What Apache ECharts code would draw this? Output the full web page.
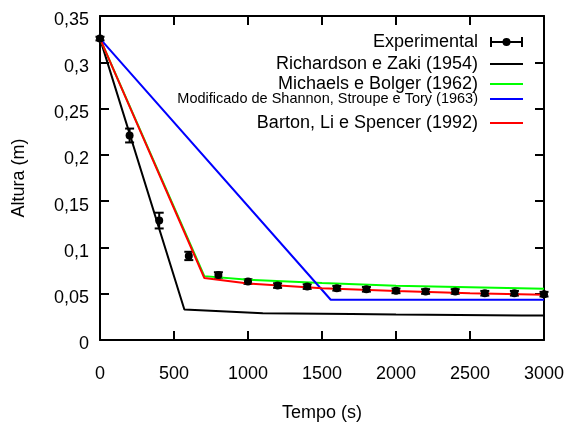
<!DOCTYPE html>
<html>
<head>
<meta charset="utf-8">
<script src="https://cdn.jsdelivr.net/npm/echarts@6/dist/echarts.min.js"></script>
<style>
  html, body { margin: 0; padding: 0; background: #fff; }
  #chart { width: 568px; height: 427px; }
</style>
</head>
<body>
<div id="chart"></div>
<script>
  // dados experimentais
  var tempoExp = [0, 200, 400, 600, 800, 1000, 1200, 1400, 1600, 1800, 2000, 2200, 2400, 2600, 2800, 3000];
  var alturaExp = [0.3256, 0.2209, 0.129, 0.0908, 0.0702, 0.0631, 0.0588, 0.0577, 0.0559, 0.0548, 0.0531, 0.0524, 0.0524, 0.0505, 0.0505, 0.0495];
  var erroExp = [0.002, 0.0075, 0.0085, 0.0045, 0.003, 0.0025, 0.0025, 0.0025, 0.0025, 0.0025, 0.0025, 0.0025, 0.0025, 0.0025, 0.0025, 0.0025];

  // modelos
  var tempoRZ = [0, 570, 1100, 1700, 2000, 2850, 3000];
  var alturaRZ = [0.3256, 0.033, 0.029, 0.028, 0.0275, 0.0265, 0.0265];
  var tempoMB = [0, 705, 1000, 1500, 2000, 2500, 3000];
  var alturaMB = [0.3256, 0.069, 0.065, 0.0615, 0.0585, 0.057, 0.0553];
  var tempoSST = [0, 1559, 3000];
  var alturaSST = [0.3256, 0.0435, 0.0435];
  var tempoBLS = [0, 705, 1000, 1500, 2000, 2500, 3000];
  var alturaBLS = [0.3256, 0.067, 0.061, 0.056, 0.053, 0.0505, 0.049];

  var nomes = ['Experimental', 'Richardson e Zaki (1954)', 'Michaels e Bolger (1962)',
    'Modificado de Shannon, Stroupe e Tory (1963)', 'Barton, Li e Spencer (1992)'];
  var cores = ['#000000', '#000000', '#00ff00', '#0000ff', '#ff0000'];
  var xTicks = [0, 3000, 500];
  var yTicks = [0, 0.35, 0.05];

  var fonte = 'Liberation Sans, Arial, Helvetica, sans-serif';

  function pares(xs, ys) {
    return xs.map(function (x, i) { return [x, ys[i]]; });
  }

  var eixoBase = {
    type: 'value',
    splitLine: {show: false},
    axisLine: {show: true, onZero: false, lineStyle: {color: '#000', width: 2}},
    axisTick: {show: true, inside: true, length: 9, lineStyle: {color: '#000', width: 2}},
  };

  function eixoX(pos, labels) {
    return Object.assign({}, eixoBase, {
      position: pos,
      min: xTicks[0], max: xTicks[1], interval: xTicks[2],
      axisLabel: {
        show: labels, fontSize: 18, color: '#000', fontFamily: fonte, margin: 25,
        formatter: function (v) { return String(v); }
      },
      name: labels ? 'Tempo (s)' : '',
      nameLocation: 'middle',
      nameGap: 64,
      nameTextStyle: {fontSize: 18, color: '#000', fontFamily: fonte},
    });
  }

  function eixoY(pos, labels) {
    return Object.assign({}, eixoBase, {
      position: pos,
      min: yTicks[0], max: yTicks[1], interval: yTicks[2],
      axisLabel: {
        show: labels, fontSize: 18, color: '#000', fontFamily: fonte, margin: 11,
        verticalAlign: 'top', lineHeight: 9,
        formatter: function (v) { return String(+v.toFixed(2)).replace('.', ','); }
      },
      name: labels ? 'Altura (m)' : '',
      nameLocation: 'middle',
      nameGap: 72,
      nameTextStyle: {fontSize: 18, color: '#000', fontFamily: fonte},
    });
  }

  // legenda estilo gnuplot: texto alinhado a direita, amostra a direita
  var legendaTop = [32, 54, 74, 89, 113];
  var legendaFonte = [18, 18, 18, 14.5, 18];
  var iconeExp = 'path://M0,0H2V10H0ZM0,4H33V6H0ZM31,0H33V10H31ZM20.5,5A4,4,0,1,1,12.5,5A4,4,0,1,1,20.5,5Z';

  var legendas = nomes.map(function (nome, i) {
    return {
      data: [{name: nome, icon: i === 0 ? iconeExp : 'rect'}],
      right: 45,
      top: legendaTop[i],
      orient: 'horizontal',
      align: 'right',
      padding: 0,
      itemWidth: 33,
      itemHeight: i === 0 ? 10 : 2,
      selectedMode: false,
      itemStyle: {borderWidth: 0},
      textStyle: {
        fontSize: legendaFonte[i], color: '#000', fontFamily: fonte,
        lineHeight: 20, padding: [0, 7, 0, 0]
      }
    };
  });

  function linha(nome, dados, cor) {
    return {
      name: nome,
      type: 'line',
      data: dados,
      symbol: 'none',
      lineStyle: {color: cor, width: 2},
      itemStyle: {color: cor},
    };
  }

  var chart = echarts.init(document.getElementById('chart'));
  var option = {
    animation: false,
    backgroundColor: '#fff',
    grid: {left: 100, right: 24, top: 16, bottom: 83},
    legend: legendas,
    xAxis: [eixoX('bottom', true), eixoX('top', false)],
    yAxis: [eixoY('left', true), eixoY('right', false)],
    series: [
      linha(nomes[1], pares(tempoRZ, alturaRZ), cores[1]),
      linha(nomes[2], pares(tempoMB, alturaMB), cores[2]),
      linha(nomes[3], pares(tempoSST, alturaSST), cores[3]),
      linha(nomes[4], pares(tempoBLS, alturaBLS), cores[4]),
      {
        name: 'erro',
        type: 'custom',
        data: tempoExp.map(function (t, i) { return [t, alturaExp[i], erroExp[i]]; }),
        renderItem: function (params, api) {
          var x = api.value(0), y = api.value(1), e = api.value(2);
          var topo = api.coord([x, y + e]);
          var base = api.coord([x, y - e]);
          var hw = 4.5;
          var st = {stroke: '#000', lineWidth: 2};
          return {
            type: 'group',
            children: [
              {type: 'line', shape: {x1: topo[0], y1: topo[1], x2: base[0], y2: base[1]}, style: st},
              {type: 'line', shape: {x1: topo[0] - hw, y1: topo[1], x2: topo[0] + hw, y2: topo[1]}, style: st},
              {type: 'line', shape: {x1: base[0] - hw, y1: base[1], x2: base[0] + hw, y2: base[1]}, style: st}
            ]
          };
        },
        z: 3
      },
      {
        name: nomes[0],
        type: 'scatter',
        data: pares(tempoExp, alturaExp),
        symbol: 'circle',
        symbolSize: 8,
        itemStyle: {color: cores[0], opacity: 1},
        clip: false,
        z: 4
      }
    ]
  };
  chart.setOption(option);
</script>
</body>
</html>
